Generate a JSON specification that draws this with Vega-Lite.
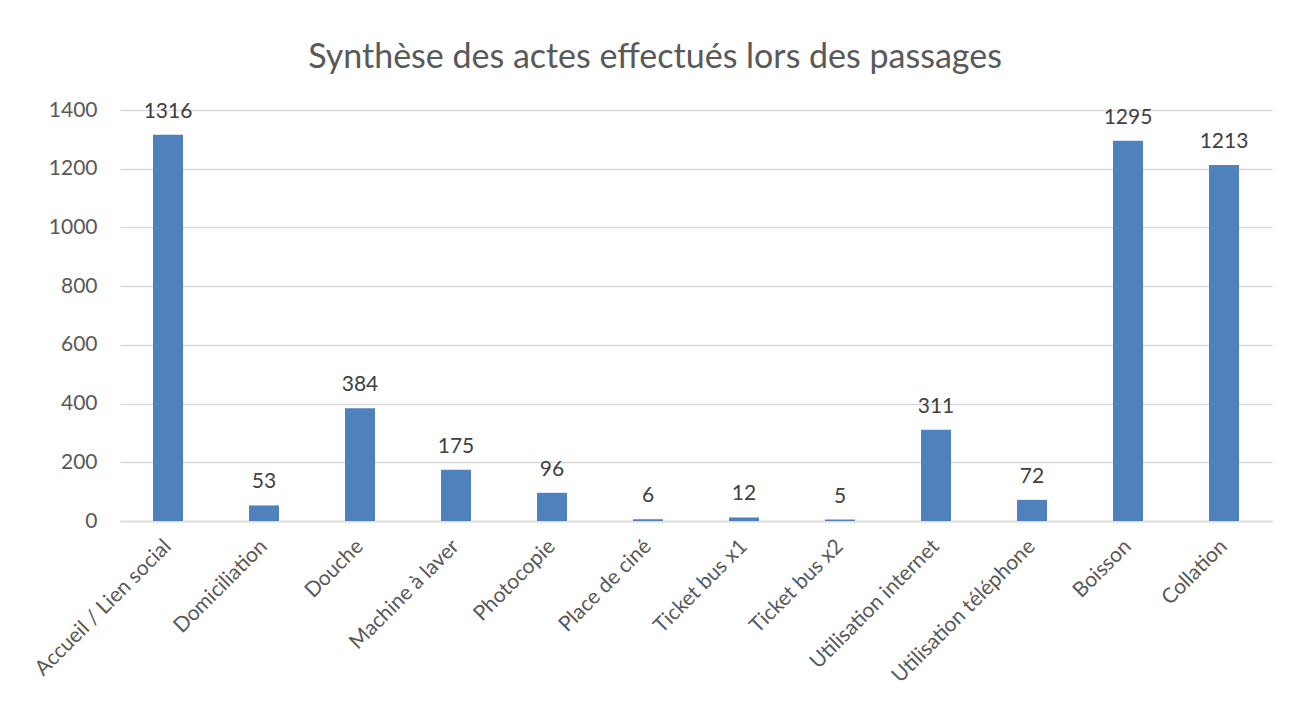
{
  "$schema": "https://vega.github.io/schema/vega-lite/v6.json",
  "width": 1152,
  "height": 411,
  "autosize": {"type": "none"},
  "padding": {"left": 120, "top": 110, "right": 18, "bottom": 190},
  "background": "white",
  "title": {
    "text": "Synthèse des actes effectués lors des passages",
    "font": "Lato",
    "fontSize": 34,
    "fontWeight": "normal",
    "color": "#595959",
    "anchor": "middle",
    "dx": -41,
    "offset": 24
  },
  "config": {
    "view": {"stroke": null},
    "font": "Lato"
  },
  "data": {
    "values": [
      {"acte": "Accueil / Lien social", "n": 1316},
      {"acte": "Domiciliation", "n": 53},
      {"acte": "Douche", "n": 384},
      {"acte": "Machine à laver", "n": 175},
      {"acte": "Photocopie", "n": 96},
      {"acte": "Place de ciné", "n": 6},
      {"acte": "Ticket bus x1", "n": 12},
      {"acte": "Ticket bus x2", "n": 5},
      {"acte": "Utilisation internet", "n": 311},
      {"acte": "Utilisation téléphone", "n": 72},
      {"acte": "Boisson", "n": 1295},
      {"acte": "Collation", "n": 1213}
    ]
  },
  "encoding": {
    "x": {
      "field": "acte",
      "type": "nominal",
      "sort": null,
      "title": null,
      "scale": {"paddingInner": 0.6875, "paddingOuter": 0.34375},
      "axis": {
        "labelAngle": -45,
        "labelAlign": "right",
        "labelBaseline": "middle",
        "labelFontSize": 21,
        "labelColor": "#595959",
        "labelFont": "Lato",
        "labelPadding": 22,
        "ticks": false,
        "domainColor": "#d9d9d9",
        "domainWidth": 1.5,
        "labelLimit": 300
      }
    },
    "y": {
      "field": "n",
      "type": "quantitative",
      "title": null,
      "scale": {"domain": [0, 1400], "nice": false},
      "axis": {
        "values": [0, 200, 400, 600, 800, 1000, 1200, 1400],
        "format": "d",
        "labelFontSize": 21,
        "labelColor": "#595959",
        "labelFont": "Lato",
        "labelPadding": 23,
        "ticks": false,
        "domain": false,
        "gridColor": "#d9d9d9",
        "gridWidth": 1.5
      }
    }
  },
  "layer": [
    {"mark": {"type": "bar", "color": "#4f81bd"}},
    {
      "mark": {
        "type": "text",
        "baseline": "bottom",
        "dy": -13,
        "fontSize": 21,
        "color": "#404040",
        "font": "Lato"
      },
      "encoding": {"text": {"field": "n", "type": "quantitative"}}
    }
  ]
}
